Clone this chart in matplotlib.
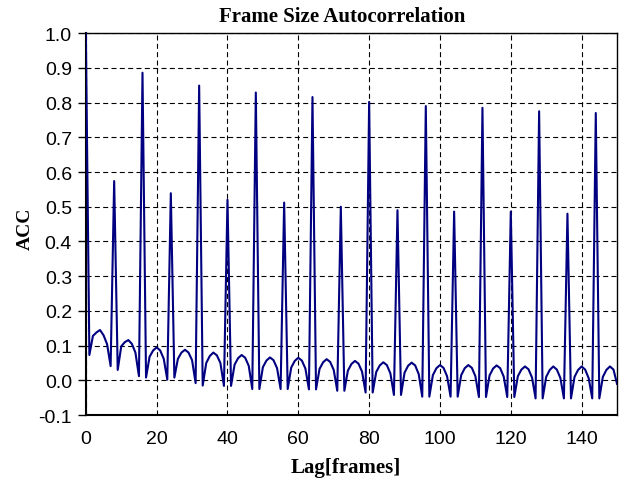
#import libraries
import matplotlib
matplotlib.use('Agg')
from matplotlib import pyplot as plt

#Autocorrelation values for lags 0..150
acc = [1.000, 0.073, 0.128, 0.138, 0.145, 0.130, 0.104, 0.041,
       0.574, 0.030, 0.098, 0.110, 0.116, 0.105, 0.080, 0.012,
       0.886, 0.008, 0.068, 0.086, 0.095, 0.086, 0.062, 0.002,
       0.539, 0.008, 0.062, 0.080, 0.088, 0.080, 0.058, -0.008,
       0.849, -0.015, 0.050, 0.070, 0.080, 0.072, 0.050, -0.016,
       0.520, -0.016, 0.045, 0.064, 0.073, 0.065, 0.042, -0.025,
       0.829, -0.025, 0.038, 0.057, 0.066, 0.058, 0.035, -0.025,
       0.512, -0.025, 0.037, 0.056, 0.065, 0.057, 0.034, -0.026,
       0.816, -0.026, 0.033, 0.052, 0.061, 0.053, 0.030, -0.030,
       0.500, -0.030, 0.028, 0.047, 0.056, 0.048, 0.025, -0.035,
       0.802, -0.035, 0.024, 0.043, 0.052, 0.044, 0.020, -0.042,
       0.490, -0.042, 0.022, 0.042, 0.051, 0.043, 0.018, -0.047,
       0.790, -0.047, 0.015, 0.035, 0.044, 0.036, 0.012, -0.047,
       0.486, -0.047, 0.015, 0.035, 0.044, 0.036, 0.012, -0.048,
       0.785, -0.048, 0.014, 0.034, 0.043, 0.035, 0.011, -0.048,
       0.486, -0.048, 0.012, 0.031, 0.040, 0.032, 0.008, -0.052,
       0.775, -0.052, 0.010, 0.030, 0.040, 0.031, 0.007, -0.052,
       0.480, -0.052, 0.010, 0.030, 0.040, 0.031, 0.006, -0.052,
       0.770, -0.052, 0.010, 0.030, 0.040, 0.031, -0.010]
lags = list(range(len(acc)))

xticks = [0, 20, 40, 60, 80, 100, 120, 140]
yticks = [-0.1, 0.0, 0.1, 0.2, 0.3, 0.4, 0.5, 0.6, 0.7, 0.8, 0.9, 1.0]

fig = plt.figure(figsize=(6.22, 4.81), dpi=100)
ax = fig.add_axes([0.138, 0.135, 0.854, 0.794])

ax.plot(lags, acc, color='#000080', linewidth=1.5, zorder=3)

ax.set_xlim(0, 150)
ax.set_ylim(-0.1, 1.0)
ax.set_xticks(xticks)
ax.set_yticks(yticks)
ax.set_yticklabels(['%.1f' % v for v in yticks])

# dashed black grid
ax.grid(True, color='black', linestyle=(0, (4.5, 3)), linewidth=0.8)
ax.set_axisbelow(True)

for s in ax.spines.values():
    s.set_color('black')
    s.set_linewidth(1.0)
ax.spines['left'].set_linewidth(1.5)
ax.spines['bottom'].set_linewidth(1.5)

ax.tick_params(axis='y', direction='out', length=6, width=1, labelsize=14, pad=4)
ax.tick_params(axis='x', length=0, labelsize=14, pad=11)
for lbl in ax.get_xticklabels() + ax.get_yticklabels():
    lbl.set_fontfamily('Liberation Sans')

ax.set_title('Frame Size Autocorrelation', fontfamily='Liberation Serif',
             fontweight='bold', fontsize=15, pad=8.5, x=0.482)
ax.set_xlabel('Lag[frames]', fontfamily='Liberation Serif', fontweight='bold',
              fontsize=15, labelpad=7, x=0.49)
ax.set_ylabel('ACC', fontfamily='Liberation Serif', fontweight='bold',
              fontsize=14, labelpad=3, y=0.49)

#Save the result
plt.savefig('out.png', dpi=100)
